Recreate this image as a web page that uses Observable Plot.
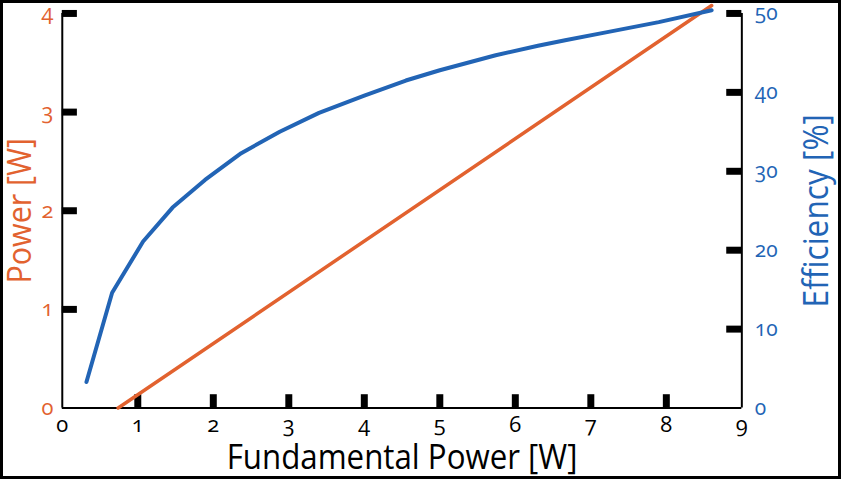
<!DOCTYPE html>
<html>
<head>
<meta charset="utf-8">
<script src="https://cdn.jsdelivr.net/npm/d3@7"></script>
<script src="https://cdn.jsdelivr.net/npm/@observablehq/plot@0.6"></script>
<style>
  html, body { margin: 0; padding: 0; background: #fff; }
  #frame { position: relative; width: 841px; height: 479px; box-sizing: border-box; border: 3px solid #000; overflow: hidden; background: #fff; }
  #chart { position: absolute; left: -3px; top: -3px; }
  svg text { font-variant-numeric: oldstyle-nums; font-feature-settings: "onum" 1; }
</style>
</head>
<body>
<div id="frame"><div id="chart"></div></div>
<script>
// Fundamental power [W] vs efficiency [%] (blue curve, right axis)
const fundamental = [0.32, 0.66, 1.07, 1.46, 1.89, 2.37, 2.88, 3.40, 4.0, 4.55, 5.0, 5.74, 6.3, 6.66, 7.2, 7.9, 8.6];
const efficiency  = [3.3, 14.6, 21.1, 25.4, 28.9, 32.3, 35.0, 37.4, 39.6, 41.5, 42.8, 44.7, 45.9, 46.6, 47.6, 48.9, 50.4];
// Fundamental power [W] vs converted power [W] (orange line, left axis)
const fundamentalP = [0.74, 8.6];
const outputPower  = [0, 4.08];
// tick values
const xTicks = [0, 1, 2, 3, 4, 5, 6, 7, 8, 9];
const powerTicks = [0, 1, 2, 3, 4];
const effTicks = [0, 10, 20, 30, 40, 50];
const xLabel = "Fundamental Power [W]";
const yLabel = "Power [W]";
const y2Label = "Efficiency [%]";

const ORANGE = "#e2622f";
const BLUE = "#2264b5";
const effMax = 50, powMax = 4;
const toPow = e => e * powMax / effMax;

const effData = fundamental.map((x, i) => ({x, y: toPow(efficiency[i])}));
const powData = fundamentalP.map((x, i) => ({x, y: outputPower[i]}));

const W = 841, H = 479;
const plot = Plot.plot({
  width: W, height: H,
  marginLeft: 62, marginRight: 97, marginTop: 13, marginBottom: 70,
  style: {fontFamily: "'Open Sans', sans-serif", background: "transparent"},
  x: {domain: [0, 9], label: null},
  y: {domain: [0, 4], label: null},
  marks: [
    // axis tick labels
    Plot.axisX({ticks: xTicks, tickSize: 0, tickPadding: 8, fontSize: 22, fill: "#000", tickFormat: d => d, label: null}),
    Plot.axisY({anchor: "left", ticks: powerTicks, tickSize: 0, tickPadding: 9, fontSize: 22, fill: ORANGE, tickFormat: d => d, label: null}),
    Plot.axisY({anchor: "right", ticks: effTicks.map(toPow), tickSize: 0, tickPadding: 13, fontSize: 21, fill: BLUE, tickFormat: d => Math.round(d * effMax / powMax), label: null}),
    // axis lines
    Plot.ruleX([0, 9], {stroke: "#000", strokeWidth: 2}),
    Plot.ruleY([0], {stroke: "#000", strokeWidth: 2}),
    // inward thick ticks
    Plot.ruleY(powerTicks.filter(d => d > 0), {y: d => d, x1: 0, x2: 0.2, stroke: "#000", strokeWidth: 7}),
    Plot.ruleY(effTicks.filter(d => d > 0), {y: d => toPow(d), x1: 8.8, x2: 9, stroke: "#000", strokeWidth: 7}),
    Plot.ruleX(xTicks.filter(d => d > 0 && d < 9), {x: d => d, y1: 0, y2: 0.135, stroke: "#000", strokeWidth: 7}),
    // data
    Plot.line(powData, {x: "x", y: "y", stroke: ORANGE, strokeWidth: 3.5}),
    Plot.line(effData, {x: "x", y: "y", stroke: BLUE, strokeWidth: 4, strokeLinejoin: "round", strokeLinecap: "round"}),
    // axis titles
    Plot.text([xLabel], {frameAnchor: "bottom", text: d => d, dy: 50, fontSize: 34, fill: "#000", textAnchor: "middle", lineAnchor: "middle", className: "ttl-x"}),
    Plot.text([yLabel], {frameAnchor: "left", text: d => d, dx: -42, rotate: -90, fontSize: 33, fill: ORANGE, textAnchor: "middle", lineAnchor: "middle", className: "ttl-y"}),
    Plot.text([y2Label], {frameAnchor: "right", text: d => d, dx: 76, rotate: -90, fontSize: 34, fill: BLUE, textAnchor: "middle", lineAnchor: "middle", className: "ttl-y2"})
  ]
});
document.getElementById("chart").appendChild(plot);
// condense the titles to the reference's narrower typeface widths
const fit = (cls, len) => d3.select(plot).selectAll(`.${cls} text`).attr("textLength", len).attr("lengthAdjust", "spacingAndGlyphs");
fit("ttl-x", 352);
fit("ttl-y", 146);
fit("ttl-y2", 194);
</script>
</body>
</html>
